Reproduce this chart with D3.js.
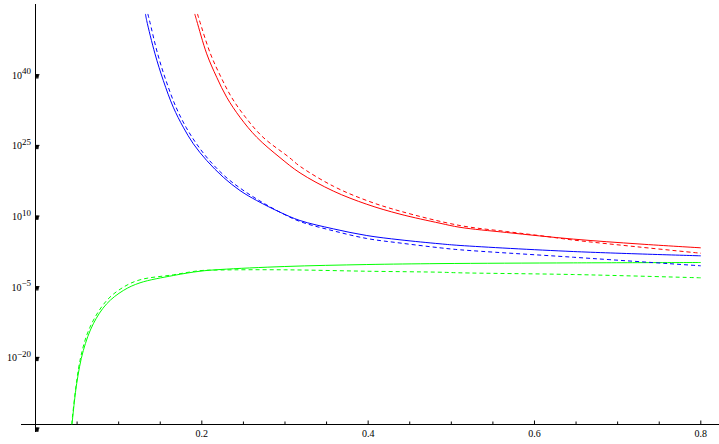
<!DOCTYPE html>
<html>
<head>
<meta charset="utf-8">
<script src="https://cdn.jsdelivr.net/npm/d3@7"></script>
<style>
  html, body { margin: 0; padding: 0; background: #fff; }
  svg { display: block; font-family: "Liberation Serif", "Times New Roman", serif; }
</style>
</head>
<body>
<svg id="chart" width="719" height="444"></svg>
<script>
// ===== data (y values as log10 of the value) =====
const redSolidX   = [0.1915, 0.1938, 0.2059, 0.2179, 0.2299, 0.2459, 0.2660, 0.2940, 0.3181, 0.3581, 0.3983, 0.4383, 0.4864, 0.5105, 0.5666, 0.6467, 0.7269, 0.8];
const redSolidExp = [52.9, 51.5, 44.43, 39.46, 35.22, 30.97, 26.73, 22.40, 19.15, 15.30, 12.50, 10.40, 8.47, 7.60, 6.50, 5.10, 4.05, 3.25];

const redDashX    = [0.1948, 0.1972, 0.2104, 0.2231, 0.2357, 0.2525, 0.2736, 0.3048, 0.3181, 0.3581, 0.3983, 0.4383, 0.5105, 0.5666, 0.6127, 0.6467, 0.7269, 0.8];
const redDashExp  = [52.9, 51.5, 44.43, 39.46, 35.22, 30.97, 26.73, 22.48, 20.55, 16.33, 13.29, 11.04, 7.98, 6.70, 5.70, 4.90, 3.40, 2.10];

const blueSolidX   = [0.1322, 0.1337, 0.1437, 0.1537, 0.1657, 0.1777, 0.1898, 0.2059, 0.2258, 0.2459, 0.2660, 0.2940, 0.3181, 0.3581, 0.3983, 0.4383, 0.4864, 0.5105, 0.6467, 0.8];
const blueSolidExp = [52.9, 51.5, 44.43, 38.76, 33.09, 28.85, 25.33, 21.78, 18.24, 15.41, 13.29, 10.81, 9.04, 7.28, 5.86, 4.95, 4.10, 3.75, 2.46, 1.55];

const blueDashX    = [0.1351, 0.1371, 0.1469, 0.1569, 0.1690, 0.1810, 0.1936, 0.2092, 0.2291, 0.2459, 0.2660, 0.2940, 0.3181, 0.3581, 0.3983, 0.4383, 0.4864, 0.5105, 0.6467, 0.8];
const blueDashExp  = [52.9, 51.5, 44.43, 38.76, 33.09, 28.85, 25.33, 21.78, 18.24, 15.94, 13.61, 10.81, 8.83, 6.86, 5.23, 4.27, 3.25, 2.83, 1.25, -0.57];

const greenSolidX   = [0.0439, 0.0495, 0.0575, 0.0695, 0.0856, 0.1056, 0.1257, 0.1657, 0.1978, 0.2219, 0.2997, 0.3983, 0.4864, 0.6467, 0.8];
const greenSolidExp = [-34.26, -25.62, -18.55, -12.88, -8.64, -5.81, -4.18, -2.63, -1.72, -1.36, -0.72, -0.30, -0.10, 0.05, 0.13];

const greenDashX    = [0.0435, 0.0535, 0.0655, 0.0856, 0.1056, 0.1257, 0.1657, 0.1978, 0.2219, 0.2997, 0.3983, 0.4864, 0.5105, 0.6467, 0.8];
const greenDashExp  = [-34.26, -20.67, -13.60, -7.94, -5.11, -3.54, -2.48, -1.60, -1.46, -1.42, -1.72, -1.93, -2.06, -2.42, -3.12];

// ticks
const xMajorTicks = [0.2, 0.4, 0.6, 0.8];
const xMinorTicks = [0.05, 0.1, 0.15, 0.25, 0.3, 0.35, 0.45, 0.5, 0.55, 0.65, 0.7, 0.75];
const yMajorExps  = [-35, -20, -5, 10, 25, 40];

const series = [
  { xs: greenSolidX, ys: greenSolidExp, color: '#00ff00', dash: null },
  { xs: greenDashX,  ys: greenDashExp,  color: '#00ff00', dash: '4,3' },
  { xs: blueSolidX,  ys: blueSolidExp,  color: '#0000ff', dash: null },
  { xs: blueDashX,   ys: blueDashExp,   color: '#0000ff', dash: '4,3' },
  { xs: redSolidX,   ys: redSolidExp,   color: '#ff0000', dash: null },
  { xs: redDashX,    ys: redDashExp,    color: '#ff0000', dash: '4,3' }
];

const svg = d3.select('#chart');

const x = d3.scaleLinear().domain([0, 0.8]).range([35.5, 700.8]);
const y = d3.scaleLog().domain([Math.pow(10, -34.26), Math.pow(10, 53.1)]).range([424.5, 13]);

// clip for the curves
svg.append('defs').append('clipPath').attr('id', 'plotClip')
  .append('rect')
  .attr('x', x(0)).attr('y', y.range()[1])
  .attr('width', x(0.8) - x(0) + 2)
  .attr('height', y.range()[0] - y.range()[1]);

// axis lines (extend a bit past the plot range, as in the original)
svg.append('line')
  .attr('x1', 21).attr('x2', 719)
  .attr('y1', 424.5).attr('y2', 424.5)
  .attr('stroke', '#000').attr('stroke-width', 1);
svg.append('line')
  .attr('x1', 35.5).attr('x2', 35.5)
  .attr('y1', 4).attr('y2', 432)
  .attr('stroke', '#000').attr('stroke-width', 1);

// x ticks (pointing up), labels below
const xMinor = svg.append('g').attr('transform', 'translate(0,424.5)')
  .call(d3.axisBottom(x).tickValues(xMinorTicks).tickSize(-3).tickFormat('').offset(0));
const xMajor = svg.append('g').attr('transform', 'translate(0,424.5)')
  .call(d3.axisBottom(x).tickValues(xMajorTicks).tickSize(-4).tickPadding(5)
        .tickFormat(d3.format('.1f')).offset(0));

// y ticks: each major decade gets the minor 2..9 ticks of the decade below it
const yMinorVals = [];
yMajorExps.forEach(n => {
  for (let k = 2; k <= 9; k++) yMinorVals.push(k * Math.pow(10, n - 1));
});
const yMinor = svg.append('g').attr('transform', 'translate(35.5,0)')
  .call(d3.axisLeft(y).tickValues(yMinorVals).tickSize(-3).tickFormat('').offset(0));
const yMajor = svg.append('g').attr('transform', 'translate(35.5,0)')
  .call(d3.axisLeft(y).tickValues(yMajorExps.map(n => Math.pow(10, n)))
        .tickSize(-4).tickPadding(4.5).offset(0));

[xMinor, xMajor, yMinor, yMajor].forEach(g => {
  g.select('.domain').remove();
  g.selectAll('.tick line').attr('stroke', '#000').attr('stroke-width', 1);
});

xMajor.selectAll('.tick text')
  .attr('font-family', '"Liberation Serif", "Times New Roman", serif')
  .attr('font-size', 10).attr('fill', '#000');

// y labels as 10 with a superscript exponent; the 10^-35 tick has no label
yMajor.selectAll('.tick text').each(function(d) {
  const e = Math.round(Math.log10(d));
  const t = d3.select(this);
  t.text(null)
    .attr('dy', null).attr('y', 4)
    .attr('font-family', '"Liberation Serif", "Times New Roman", serif')
    .attr('font-size', 10).attr('fill', '#000');
  if (e === -35) { t.remove(); return; }
  t.append('tspan').text('10');
  t.append('tspan').attr('dy', -4.5).attr('font-size', 9)
    .text(e < 0 ? '\u2212' + Math.abs(e) : String(e));
});

// curves
const line = d3.line()
  .x(d => x(d[0]))
  .y(d => y(Math.pow(10, d[1])))
  .curve(d3.curveCatmullRom.alpha(0.5));

const curves = svg.append('g').attr('clip-path', 'url(#plotClip)');
series.forEach(s => {
  const pts = s.xs.map((v, i) => [v, s.ys[i]]);
  curves.append('path')
    .datum(pts)
    .attr('d', line)
    .attr('fill', 'none')
    .attr('stroke', s.color)
    .attr('stroke-width', 1)
    .attr('stroke-dasharray', s.dash);
});
</script>
</body>
</html>
